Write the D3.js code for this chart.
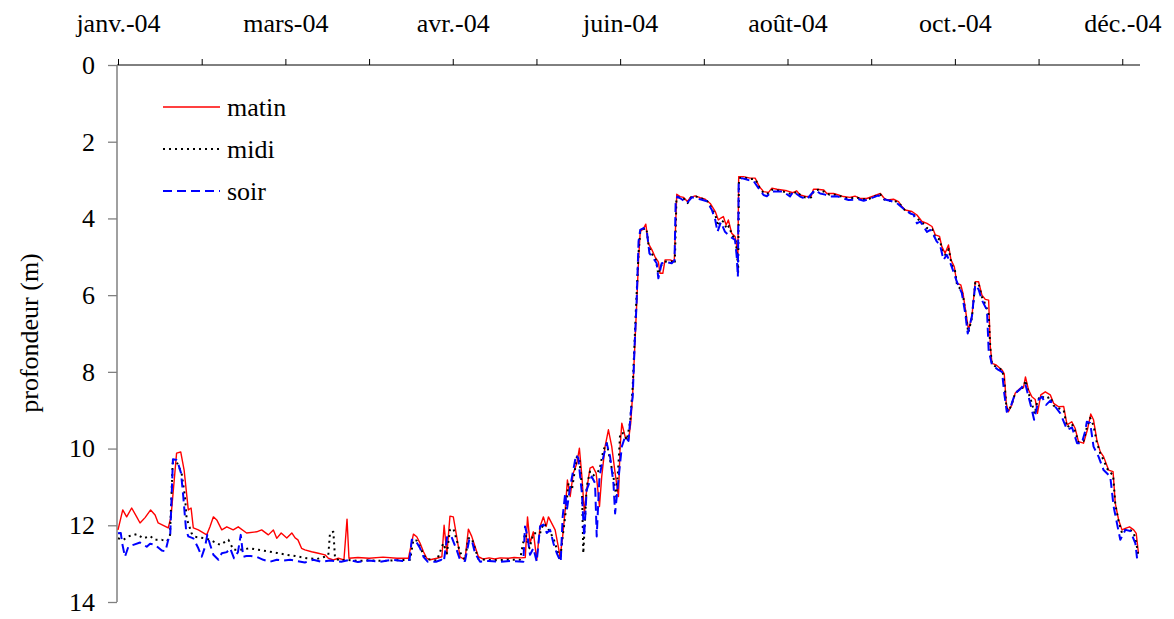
<!DOCTYPE html>
<html><head><meta charset="utf-8">
<script src="https://cdn.jsdelivr.net/npm/d3@7"></script>
<style>body{margin:0;background:#fff}svg{display:block}</style>
</head><body><svg id="c" width="1174" height="619" font-family="Liberation Serif, Times New Roman, serif"></svg>
<script>
// day of year 2004 (0 = 1 Jan) and depth (m)
const matin = [[0,12.12],[1.7,11.6],[3.1,11.78],[4.9,11.55],[6.7,11.78],[7.9,11.94],[9.7,11.8],[11.7,11.6],[13.3,11.73],[14.4,11.94],[16.2,12.0],[18,12.07],[19,11.78],[21,10.12],[22.5,10.09],[23.7,10.56],[25.2,11.6],[26.2,11.55],[27,12.07],[28.8,12.12],[31.8,12.25],[33,12.03],[34.2,11.78],[35.4,11.86],[37.2,12.12],[39,12.04],[41.3,12.12],[43.1,12.04],[46.1,12.2],[49.7,12.17],[51.5,12.12],[53.9,12.25],[55.7,12.12],[56.9,12.34],[58.5,12.2],[60.5,12.33],[62.3,12.2],[63.5,12.33],[64.5,12.38],[65.8,12.6],[67,12.64],[69.4,12.69],[71.8,12.73],[74.2,12.77],[75.4,12.86],[77.2,12.9],[79,12.86],[81,12.9],[82.1,11.84],[82.8,12.86],[86,12.84],[90,12.86],[95,12.83],[100,12.86],[104.1,12.86],[105.9,12.23],[107.1,12.3],[108.3,12.47],[109.5,12.69],[110.7,12.86],[111.9,12.9],[114.3,12.86],[116.1,12.82],[116.9,12.0],[117.9,12.75],[119,11.76],[120.2,11.78],[121.4,12.29],[122.6,12.82],[124.4,12.9],[125.6,12.1],[126.8,12.29],[128,12.56],[129.2,12.82],[131,12.88],[133,12.85],[135,12.88],[137,12.85],[140,12.86],[142,12.84],[144.5,12.85],[146,12.84],[146.8,11.78],[147.7,12.47],[148.9,12.17],[150.1,12.9],[151.3,12.03],[152.5,11.78],[153.5,12.03],[154.3,11.78],[155.5,11.95],[156.7,12.12],[158.5,12.82],[159.4,12.29],[160.3,11.6],[161.1,10.82],[162.1,11.25],[163.2,10.64],[164.5,10.38],[165.4,9.99],[166.3,10.73],[167.2,11.69],[168,11.08],[169.2,10.51],[170.2,10.47],[171.4,10.64],[172.6,11.51],[173.4,10.73],[174.6,9.95],[175.8,9.51],[177,9.95],[178.2,10.64],[179.4,11.25],[180,9.95],[180.6,9.34],[181.8,9.69],[183,9.78],[183.8,9.34],[184.5,8.56],[186,6.13],[186.6,5.08],[187.2,4.35],[188.4,4.26],[189.2,4.15],[190.1,4.65],[191.4,4.82],[192.5,5.0],[193.7,5.13],[194.3,5.43],[195.3,5.43],[196.1,5.08],[197.9,5.08],[199.4,5.12],[200.3,3.37],[201.5,3.43],[202.7,3.45],[204.1,3.56],[205.1,3.46],[206.9,3.41],[208.7,3.46],[210.5,3.5],[212.3,3.61],[214.1,3.82],[215.2,4.04],[216.1,3.99],[217,3.95],[218,4.17],[218.8,4.04],[220,4.39],[221.2,4.47],[221.8,4.73],[222.2,5.08],[222.5,2.91],[224.2,2.91],[226.6,2.95],[228.4,2.95],[229.9,3.17],[231.4,3.3],[233.2,3.32],[234.4,3.21],[236.2,3.24],[238,3.26],[239.8,3.28],[241.9,3.33],[243.3,3.28],[244.5,3.39],[246.9,3.43],[248.4,3.44],[249.3,3.24],[250.5,3.24],[253,3.26],[254.1,3.35],[256.5,3.35],[258.3,3.39],[260,3.43],[262.4,3.45],[264.2,3.42],[266,3.48],[268.4,3.48],[270.9,3.41],[273.3,3.35],[274.5,3.46],[275.7,3.52],[278,3.5],[279.8,3.56],[281,3.69],[282.2,3.78],[284.6,3.82],[286.4,3.91],[288.2,4.08],[290,4.13],[291.8,4.21],[293,4.43],[294.5,4.47],[295.3,4.73],[296.5,4.91],[297.7,4.69],[298.6,5.08],[299.8,5.26],[300.7,5.69],[302.1,5.73],[302.9,5.95],[303.7,6.34],[304.9,6.91],[306.1,6.56],[307.3,5.65],[308.5,5.65],[309.7,6.0],[310.9,6.11],[312.1,6.13],[312.7,7.34],[313.3,7.78],[314.8,7.82],[316.9,7.95],[317.7,8.05],[318.4,8.82],[319.2,9.04],[320.4,8.86],[321.6,8.56],[323.4,8.43],[324.6,8.41],[325.3,8.13],[326.4,8.47],[327.6,8.65],[328.8,8.72],[329.6,9.08],[330.8,8.6],[332.4,8.52],[334.2,8.6],[335.4,8.82],[337.2,8.91],[339,8.9],[340.2,9.38],[341.9,9.3],[343.1,9.47],[344.3,9.82],[346.1,9.86],[347.5,9.51],[348.7,9.1],[349.7,9.25],[350.9,9.78],[352.1,10.08],[353.3,10.21],[355.1,10.56],[356.7,10.6],[357.5,11.43],[358.7,11.86],[359.9,12.12],[361.1,12.08],[362.6,12.04],[364.1,12.12],[365,12.21],[365.8,12.73]];

const midi = [[0,12.34],[1.9,12.38],[3.7,12.29],[6.7,12.23],[9.1,12.34],[11.5,12.28],[13.3,12.38],[15.7,12.38],[17.5,12.42],[18.6,12.3],[19.6,10.38],[21,10.34],[22.8,10.64],[24,11.25],[24.6,11.82],[26.4,12.21],[27.6,12.3],[31.2,12.34],[33,12.38],[36.6,12.51],[39.6,12.38],[41.4,12.64],[43.7,12.64],[47.3,12.6],[50.3,12.64],[54.5,12.69],[56.9,12.72],[60.5,12.77],[63.5,12.8],[67.7,12.86],[71.2,12.88],[74.2,12.82],[75.4,12.77],[76,12.2],[77.2,12.17],[77.8,12.86],[79.5,12.92],[82,12.9],[86,12.93],[90,12.91],[95,12.93],[100,12.91],[104.7,12.9],[105.9,12.38],[107.1,12.4],[108.3,12.56],[109.5,12.77],[110.7,12.88],[114.3,12.92],[116.6,12.47],[117.9,12.73],[119,12.12],[120.2,12.08],[121.4,12.38],[122.6,12.7],[124.4,12.9],[125.6,12.34],[126.8,12.34],[129.2,12.88],[132,12.9],[136,12.91],[140,12.9],[144.1,12.9],[145.9,12.21],[147.5,12.6],[148.9,12.21],[151.3,12.21],[152.5,11.95],[153.7,12.03],[156.1,12.34],[158.5,12.9],[159.4,12.29],[160.3,11.78],[161.5,10.9],[162.7,11.08],[164.5,10.21],[165.4,10.3],[166.3,11.0],[166.8,12.73],[168,11.0],[169.2,10.6],[170.4,10.7],[172.6,10.56],[174,10.04],[175.2,9.86],[176.4,10.3],[177.6,10.73],[178.6,11.25],[179.4,10.4],[180,9.6],[181.2,9.6],[182.4,9.78],[183.6,9.3],[184.5,8.4],[185.7,6.3],[186.6,4.9],[187.2,4.35],[188.4,4.28],[189.4,4.25],[190.3,4.75],[191.6,4.95],[192.8,5.08],[193.7,5.45],[194.9,5.2],[196.5,5.12],[198.5,5.12],[199.6,5.18],[200.2,3.45],[201.5,3.45],[203,3.5],[204.2,3.6],[205.4,3.45],[207,3.42],[209,3.48],[211,3.52],[212.5,3.7],[214.2,3.92],[215,4.2],[216.2,4.05],[217.3,4.1],[218.2,4.28],[219,4.2],[220.2,4.45],[221.3,4.52],[221.9,4.9],[222.3,5.4],[222.6,2.95],[224.2,2.93],[226.6,2.97],[228.5,2.98],[230,3.2],[231.5,3.35],[233.2,3.35],[234.5,3.25],[236.5,3.27],[238.5,3.3],[240.5,3.35],[242,3.36],[243.5,3.3],[245,3.43],[247,3.46],[248.5,3.45],[249.5,3.27],[251,3.25],[253,3.3],[255,3.38],[257,3.38],[259,3.42],[261,3.47],[263,3.47],[265,3.46],[267,3.5],[269,3.5],[271,3.43],[273.2,3.37],[274.6,3.5],[276,3.55],[278,3.53],[280,3.6],[281.3,3.72],[282.5,3.82],[284.6,3.86],[286.4,4.0],[288.2,4.1],[290,4.25],[291.8,4.28],[293,4.5],[294.6,4.55],[295.6,4.9],[296.6,4.95],[297.8,4.8],[298.8,5.2],[300,5.35],[300.8,5.75],[302.2,5.85],[303,6.05],[303.8,6.45],[304.8,6.98],[306.1,6.6],[307.3,5.68],[308.5,5.7],[309.7,6.05],[311,6.25],[312.1,6.5],[312.7,7.38],[313.3,7.8],[315,7.88],[317,7.95],[317.8,8.3],[318.5,8.95],[319.3,9.02],[320.5,8.82],[321.6,8.56],[323.4,8.45],[324.6,8.4],[325.3,8.22],[326.4,8.55],[327.6,8.82],[328.6,9.1],[329.6,8.75],[330.8,8.62],[332.5,8.7],[334.2,8.65],[335.4,8.88],[337.2,8.95],[339,9.0],[340.2,9.45],[341.9,9.35],[343.1,9.55],[344.3,9.84],[346.1,9.8],[347.3,9.45],[348.5,9.2],[349.7,9.4],[350.9,9.85],[352.1,10.12],[353.3,10.3],[355.1,10.6],[356.7,10.68],[357.5,11.45],[358.7,11.9],[359.9,12.2],[361.1,12.12],[362.6,12.1],[364.1,12.2],[365,12.45],[365.8,12.8]];

const soir = [[0,12.21],[1,12.2],[1.5,12.47],[2.5,12.82],[3.7,12.56],[5.5,12.51],[7.9,12.45],[9,12.5],[10.3,12.56],[11.5,12.48],[13.3,12.51],[15.7,12.66],[17,12.68],[18,12.38],[18.7,12.3],[19.7,10.28],[21,10.3],[21.5,10.38],[22.6,10.64],[23.4,11.25],[24.4,12.12],[25.2,12.29],[27,12.34],[28.8,12.6],[30,12.82],[31.2,12.56],[32,12.25],[33,12.5],[34.2,12.77],[36,12.9],[37.2,12.73],[39,12.7],[40.2,12.6],[41.6,12.86],[43,12.7],[44,12.25],[44.9,12.82],[46,12.8],[47.5,12.8],[49.7,12.82],[52.1,12.9],[54.5,12.95],[56.9,12.9],[59.3,12.92],[61.7,12.9],[64,12.93],[67,12.97],[70,12.9],[73,12.95],[76,12.92],[80,12.95],[83,12.9],[86,12.96],[90,12.92],[94,12.95],[98,12.9],[102,12.93],[104.5,12.9],[105.3,12.38],[106.5,12.38],[108.3,12.6],[109.5,12.82],[111,12.95],[114,12.95],[116,12.9],[116.8,12.95],[118,12.29],[119.5,12.29],[121.4,12.64],[122.6,12.9],[124.4,12.93],[125.9,12.38],[126.8,12.38],[128,12.73],[129.8,12.95],[133,12.93],[137,12.95],[141,12.93],[145.3,12.95],[145.9,12.03],[146.8,12.29],[147.7,12.77],[148.9,12.6],[150.1,12.95],[151.3,12.03],[152.5,11.98],[153.7,12.2],[154.9,12.12],[156.1,12.47],[157.3,12.73],[158.7,12.95],[159.4,11.78],[160.3,11.17],[160.9,11.6],[162.1,10.99],[163,10.64],[164.2,10.17],[165,10.25],[166.3,11.17],[167.1,12.29],[168,11.08],[169.8,10.73],[171,10.9],[171.4,11.78],[171.6,12.29],[172.6,10.73],[174,10.21],[175.2,9.86],[176.4,10.21],[177.6,10.9],[178.2,11.69],[179.4,10.8],[180.6,9.95],[181.8,9.69],[183,9.8],[183.8,9.08],[184.5,8.65],[185.2,7.3],[185.9,6.2],[186.6,4.6],[187.2,4.3],[188.4,4.25],[189.6,4.35],[190.5,4.91],[191.9,5.04],[193.1,5.17],[193.7,5.56],[194.9,5.17],[196.7,5.14],[198.5,5.17],[199.5,5.1],[199.9,3.6],[200.5,3.43],[202.1,3.5],[203.9,3.6],[205.7,3.45],[208.7,3.5],[211.1,3.55],[212.9,3.78],[214.1,4.04],[214.9,4.35],[216.1,4.1],[217.6,4.35],[218.8,4.43],[220,4.5],[221.2,4.56],[221.8,5.0],[222.2,5.52],[222.5,3.08],[223.6,2.95],[226,3.0],[227.8,3.02],[229.6,3.21],[231.4,3.39],[232.6,3.42],[234.4,3.3],[236.2,3.3],[238.5,3.3],[240.9,3.43],[242.1,3.3],[244.5,3.43],[246.9,3.5],[248.7,3.35],[249.9,3.26],[251.7,3.35],[253.5,3.38],[255.3,3.43],[257.7,3.42],[260.1,3.48],[261.9,3.52],[265.5,3.5],[267.3,3.54],[270.8,3.45],[272.6,3.4],[274.4,3.5],[276.8,3.54],[279.2,3.6],[281.6,3.75],[284,3.87],[285.2,3.9],[286.4,4.13],[287.6,4.08],[290,4.35],[291.2,4.3],[292.3,4.43],[293.5,4.6],[294.7,4.7],[295.9,5.08],[297.1,4.95],[298.3,5.15],[299.5,5.39],[300.7,5.65],[302.5,5.95],[303.7,6.47],[304.6,7.0],[306.1,6.55],[307.3,5.73],[308.5,5.85],[309.7,6.13],[311.5,6.39],[312.1,7.43],[313.3,7.82],[315.6,7.95],[316.9,8.0],[317.7,8.56],[318.6,9.04],[319.8,8.95],[321.6,8.56],[323.4,8.45],[325.2,8.3],[326.4,8.65],[327.6,8.99],[328.4,9.25],[330,8.73],[331.2,8.65],[332.7,8.86],[334.2,8.75],[336,8.91],[337.8,9.08],[340.2,9.51],[342,9.45],[343.8,9.86],[345.5,9.86],[346.7,9.55],[347.3,9.3],[348.5,9.33],[349.7,9.95],[351.5,10.21],[353.3,10.56],[355.7,10.73],[356.9,11.51],[358.1,11.95],[359.3,12.38],[361.1,12.12],[362.9,12.15],[364.7,12.47],[365.3,12.86]];

const tickDays = [0,30,60,90,120,150,180,210,240,270,300,330,360];
const tickLabels = ["janv.-04","","mars-04","","avr.-04","","juin-04","","août-04","","oct.-04","","déc.-04"];
const depthTicks = [0,2,4,6,8,10,12,14];
const seriesNames = ["matin","midi","soir"];
const seriesColors = ["#ff0000","#000000","#0000ff"];
const seriesDash = [null,"2,4","9,5"];
const seriesWidth = [1.4,2,2];

const FONT = "'Liberation Serif', 'Times New Roman', serif";
const svg = d3.select("#c");
const x = d3.scaleLinear().domain([0,366]).range([118,1139]);
const y = d3.scaleLinear().domain([0,14]).range([65,602]);

// x axis on top
const xa = svg.append("g").attr("transform","translate(0,65)")
  .call(d3.axisTop(x).tickValues(tickDays).tickSize(6).tickPadding(27)
    .tickFormat((d,i)=>tickLabels[i]));
xa.attr("font-family",null).attr("font-size",null);
xa.select(".domain").attr("stroke","#000").attr("d","M117,0H1140");
xa.selectAll(".tick line").attr("stroke","#000");
xa.selectAll("text").style("font-family",FONT).style("font-size","26px").attr("fill","#000");

// y axis
const ya = svg.append("g").attr("transform","translate(117,0)")
  .call(d3.axisLeft(y).tickValues(depthTicks).tickSize(9).tickPadding(13));
ya.attr("font-family",null).attr("font-size",null);
ya.select(".domain").attr("stroke","#808080").attr("stroke-width",1.5).attr("d","M0,65V602");
ya.selectAll(".tick line").attr("stroke","#808080").attr("stroke-width",1.3);
ya.selectAll("text").style("font-family",FONT).style("font-size","26px").attr("fill","#000");

svg.append("text").attr("transform","translate(38,333) rotate(-90)")
  .attr("text-anchor","middle").style("font-family",FONT).style("font-size","26px").text("profondeur (m)");

const line = d3.line().x(d=>x(d[0])).y(d=>y(d[1]));
[matin,midi,soir].forEach((s,i)=>{
  svg.append("path").datum(s).attr("d",line).attr("fill","none")
    .attr("stroke",seriesColors[i]).attr("stroke-width",seriesWidth[i])
    .attr("stroke-dasharray",seriesDash[i]).attr("stroke-linejoin","round");
});

// legend
const lg = svg.append("g");
seriesNames.forEach((n,i)=>{
  const yy = 107 + i*42;
  lg.append("line").attr("x1",163).attr("x2",220).attr("y1",yy).attr("y2",yy)
    .attr("stroke",seriesColors[i]).attr("stroke-width",i==0?1.3:2).attr("stroke-dasharray",seriesDash[i]);
  lg.append("text").attr("x",227).attr("y",yy+9).style("font-family",FONT).style("font-size","26px").text(n);
});
</script></body></html>
